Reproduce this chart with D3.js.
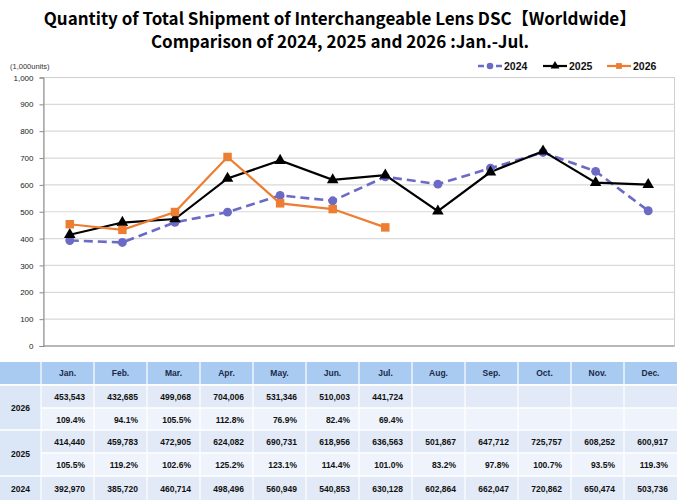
<!DOCTYPE html>
<html>
<head>
<meta charset="utf-8">
<script src="https://cdn.jsdelivr.net/npm/d3@7"></script>
<style>
  body { margin: 0; background: #fff; }
  svg { display: block; }
</style>
</head>
<body>
<div id="chart"></div>
<script>
// données (1,000 units)
const months = ["Jan.", "Feb.", "Mar.", "Apr.", "May.", "Jun.", "Jul.", "Aug.", "Sep.", "Oct.", "Nov.", "Dec."];
const v2024 = [392970, 385720, 460714, 498496, 560949, 540853, 630128, 602864, 662047, 720862, 650474, 503736];
const v2025 = [414440, 459783, 472905, 624082, 690731, 618956, 636563, 501867, 647712, 725757, 608252, 600917];
const v2026 = [453543, 432685, 499068, 704006, 531346, 510003, 441724];
const p2025 = ["105.5%", "119.2%", "102.6%", "125.2%", "123.1%", "114.4%", "101.0%", "83.2%", "97.8%", "100.7%", "93.5%", "119.3%"];
const p2026 = ["109.4%", "94.1%", "105.5%", "112.8%", "76.9%", "82.4%", "69.4%"];
const yTicks = [0, 100, 200, 300, 400, 500, 600, 700, 800, 900, 1000];

// constantes
const w = 680, h = 502;
const plotL = 43.5, plotR = 674.5, plotT = 77.5, plotB = 346;
const fmt = d3.format(",");

const svg = d3.select("#chart").append("svg")
    .attr("width", w)
    .attr("height", h)
    .style("font-family", "'Liberation Sans', Arial, sans-serif");

// titre
const title = svg.append("text")
    .attr("text-anchor", "middle")
    .attr("font-family", "'Noto Sans CJK JP', 'Noto Sans', sans-serif")
    .attr("font-weight", "bold")
    .attr("font-size", "17px")
    .attr("fill", "#000");
title.append("tspan").attr("x", 340).attr("y", 25).text("Quantity of Total Shipment of Interchangeable Lens DSC【Worldwide】");
title.append("tspan").attr("x", 340).attr("y", 48).text("Comparison of 2024, 2025 and 2026 :Jan.-Jul.");

// échelles
const xScale = d3.scalePoint().domain(months).range([plotL, plotR]).padding(0.5);
const yScale = d3.scaleLinear().domain([0, 1000]).range([plotB, plotT]);

// grille
svg.append("g").selectAll("line")
    .data(yTicks.filter(d => d > 0))
    .join("line")
    .attr("x1", plotL).attr("x2", plotR)
    .attr("y1", d => yScale(d)).attr("y2", d => yScale(d))
    .attr("stroke", "#d9d9d9")
    .attr("stroke-width", 1.2);

// cadre
svg.append("rect")
    .attr("x", plotL).attr("y", plotT)
    .attr("width", plotR - plotL).attr("height", plotB - plotT)
    .attr("fill", "none")
    .attr("stroke", "#cfcfcf");

// axe y
const axeY = d3.axisLeft(yScale).tickValues(yTicks).tickSize(4).tickPadding(6).tickFormat(d3.format(","));
const gy = svg.append("g")
    .attr("transform", "translate(" + plotL + ",0)")
    .call(axeY);
gy.select(".domain").attr("stroke", "#888");
gy.selectAll(".tick line").attr("stroke", "#888");
gy.selectAll("text").attr("font-size", "8px").attr("fill", "#222");

// axe x
svg.append("line")
    .attr("x1", plotL).attr("x2", plotR)
    .attr("y1", plotB).attr("y2", plotB)
    .attr("stroke", "#888");

svg.append("text")
    .attr("x", 10).attr("y", 69)
    .attr("font-size", "7.5px")
    .attr("fill", "#333")
    .text("(1,000units)");

// séries
const series = [
    { name: "2024", values: v2024, color: "#6b6bc6", dash: "9,5", width: 2.6, marker: "circle" },
    { name: "2025", values: v2025, color: "#000000", dash: null, width: 2.2, marker: "triangle" },
    { name: "2026", values: v2026, color: "#ed7d31", dash: null, width: 2.2, marker: "square" }
];

const line = d3.line()
    .x((d, i) => xScale(months[i]))
    .y(d => yScale(d / 1000));

const symbolTypes = { circle: d3.symbolCircle, triangle: d3.symbolTriangle, square: d3.symbolSquare };
const symbolSizes = { circle: 62, triangle: 58, square: 72 };

series.forEach(s => {
    svg.append("path")
        .datum(s.values)
        .attr("d", line)
        .attr("fill", "none")
        .attr("stroke", s.color)
        .attr("stroke-width", s.width)
        .attr("stroke-dasharray", s.dash);
});

series.forEach(s => {
    svg.append("g").selectAll("path")
        .data(s.values)
        .join("path")
        .attr("d", d3.symbol().type(symbolTypes[s.marker]).size(symbolSizes[s.marker]))
        .attr("transform", (d, i) => "translate(" + xScale(months[i]) + "," + yScale(d / 1000) + ")")
        .attr("fill", s.color);
});

// légende
const legendX = [478, 543, 607];
series.forEach((s, i) => {
    const g = svg.append("g").attr("transform", "translate(" + legendX[i] + ",66)");
    g.append("line")
        .attr("x1", 0).attr("x2", 24)
        .attr("stroke", s.color)
        .attr("stroke-width", s.width)
        .attr("stroke-dasharray", s.dash ? "6,3" : null);
    g.append("path")
        .attr("d", d3.symbol().type(symbolTypes[s.marker]).size(34))
        .attr("transform", "translate(12,0)")
        .attr("fill", s.color);
    g.append("text")
        .attr("x", 26).attr("y", 4)
        .attr("font-size", "10.5px")
        .attr("font-weight", "bold")
        .attr("fill", "#111")
        .text(s.name);
});

// tableau
const firstW = 41, colW = (677 - firstW) / 12;
const rowsY = [362, 385, 408, 430, 453, 476, 500];
const colX = d3.scaleBand().domain(months).range([firstW, firstW + colW * 12]);

const tableRows = [
    { vals: v2026.map(fmt), fill: "#e2eaf7" },
    { vals: p2026, fill: "#eff4fc" },
    { vals: v2025.map(fmt), fill: "#e2eaf7" },
    { vals: p2025, fill: "#eff4fc" },
    { vals: v2024.map(fmt), fill: "#e2eaf7" }
];

const table = svg.append("g").attr("font-weight", "bold").attr("font-size", "8.5px");

// entête
table.append("rect")
    .attr("x", 0).attr("y", rowsY[0])
    .attr("width", firstW).attr("height", rowsY[1] - rowsY[0] - 1)
    .attr("fill", "#a9caf1");
table.append("g").selectAll("rect")
    .data(months)
    .join("rect")
    .attr("x", d => colX(d)).attr("y", rowsY[0])
    .attr("width", colX.bandwidth()).attr("height", rowsY[1] - rowsY[0] - 1)
    .attr("fill", "#a9caf1");
table.append("g").selectAll("text")
    .data(months)
    .join("text")
    .attr("x", d => colX(d) + colX.bandwidth() / 2)
    .attr("y", rowsY[0] + 14)
    .attr("text-anchor", "middle")
    .attr("fill", "#1a2a4a")
    .text(d => d);

// lignes
tableRows.forEach((r, i) => {
    const y0 = rowsY[i + 1], y1 = rowsY[i + 2];
    table.append("g").selectAll("rect")
        .data(months)
        .join("rect")
        .attr("x", d => colX(d)).attr("y", y0)
        .attr("width", colX.bandwidth()).attr("height", y1 - y0)
        .attr("fill", r.fill);
    table.append("g").selectAll("text")
        .data(r.vals)
        .join("text")
        .attr("x", (d, j) => colX(months[j]) + colX.bandwidth() - 9)
        .attr("y", (y0 + y1) / 2 + 3.5)
        .attr("text-anchor", "end")
        .attr("fill", "#111")
        .text(d => d);
});

// colonne des années
const yearCells = [
    { label: "2026", y0: rowsY[1], y1: rowsY[3] },
    { label: "2025", y0: rowsY[3], y1: rowsY[5] },
    { label: "2024", y0: rowsY[5], y1: rowsY[6] }
];
table.append("g").selectAll("rect")
    .data(yearCells)
    .join("rect")
    .attr("x", 0).attr("y", d => d.y0)
    .attr("width", firstW).attr("height", d => d.y1 - d.y0)
    .attr("fill", "#dbe6f6");

// séparateurs blancs
table.append("g").selectAll("line")
    .data(months)
    .join("line")
    .attr("x1", d => colX(d)).attr("x2", d => colX(d))
    .attr("y1", rowsY[0]).attr("y2", rowsY[6])
    .attr("stroke", "#fff")
    .attr("stroke-width", 1.2);
table.append("g").selectAll("line")
    .data(rowsY.slice(1, 6))
    .join("line")
    .attr("x1", (d, i) => (i % 2 == 1 ? firstW : 0)).attr("x2", firstW + colW * 12)
    .attr("y1", d => d).attr("y2", d => d)
    .attr("stroke", "#fff")
    .attr("stroke-width", 1.5);

table.append("g").selectAll("text")
    .data(yearCells)
    .join("text")
    .attr("x", 11)
    .attr("y", d => (d.y0 + d.y1) / 2 + 3.5)
    .attr("fill", "#111")
    .text(d => d.label);
</script>
</body>
</html>
